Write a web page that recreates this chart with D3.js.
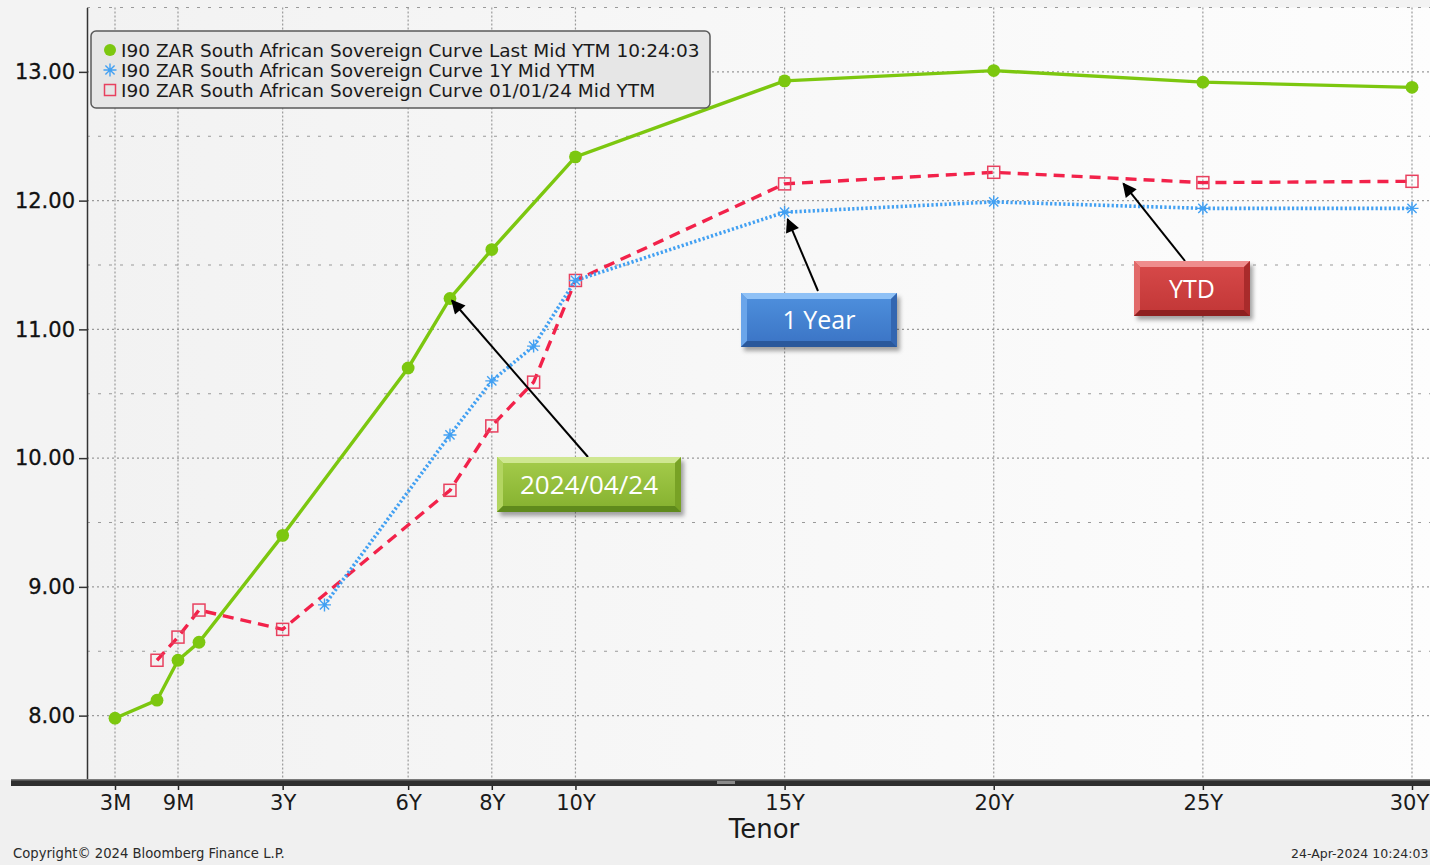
<!DOCTYPE html>
<html>
<head>
<meta charset="utf-8">
<script src="https://cdn.jsdelivr.net/npm/d3@7"></script>
<style>
  html, body { margin: 0; padding: 0; background: #f0f0f0; overflow: hidden; }
  svg { display: block; }
</style>
</head>
<body>
<svg id="chart" width="1430" height="865"></svg>
<script>
// ---- data -----------------------------------------------------------
const tickTenors = ["3M", "9M", "3Y", "6Y", "8Y", "10Y", "15Y", "20Y", "25Y", "30Y"];

const lastTenors = ["3M", "6M", "9M", "1Y", "3Y", "6Y", "7Y", "8Y", "10Y", "15Y", "20Y", "25Y", "30Y"];
const lastYTM    = [7.98, 8.12, 8.43, 8.57, 9.40, 10.70, 11.24, 11.62, 12.34, 12.93, 13.01, 12.92, 12.88];

const oneYearTenors = ["4Y", "7Y", "8Y", "9Y", "10Y", "15Y", "20Y", "25Y", "30Y"];
const oneYearYTM    = [8.86, 10.18, 10.60, 10.87, 11.38, 11.91, 11.99, 11.94, 11.94];

const ytdTenors = ["6M", "9M", "1Y", "3Y", "7Y", "8Y", "9Y", "10Y", "15Y", "20Y", "25Y", "30Y"];
const ytdYTM    = [8.43, 8.61, 8.82, 8.67, 9.75, 10.25, 10.59, 11.38, 12.13, 12.22, 12.14, 12.15];

const yTicks = [8, 9, 10, 11, 12, 13];

const legendLabels = [
  "I90 ZAR South African Sovereign Curve Last Mid YTM 10:24:03",
  "I90 ZAR South African Sovereign Curve 1Y Mid YTM",
  "I90 ZAR South African Sovereign Curve 01/01/24 Mid YTM"
];

// ---- helpers --------------------------------------------------------
const tenorYears = t => t.endsWith("M") ? parseFloat(t) / 12 : parseFloat(t);

const svg = d3.select("#chart");
const FONT = "'DejaVu Sans', Verdana, sans-serif";

// Bloomberg tenor axis: stretched at the short end, linear from 1Y on
const x = d3.scaleLinear().domain([0.25, 0.5, 1, 30]).range([115, 157, 199, 1412]);
const y = d3.scaleLinear().domain([7.5, 13.5]).range([780, 7.5]);

const plotLeft = 87, plotRight = 1440, plotTop = y(13.5), plotBottom = y(7.5);

const defs = svg.append("defs");
const bg = defs.append("linearGradient").attr("id", "plotBg").attr("x1", 0).attr("x2", 1).attr("y1", 0).attr("y2", 0);
bg.append("stop").attr("offset", 0).attr("stop-color", "#f2f2f2");
bg.append("stop").attr("offset", 1).attr("stop-color", "#fdfdfd");

const shadow = defs.append("filter").attr("id", "boxShadow").attr("x", "-20%").attr("y", "-20%").attr("width", "140%").attr("height", "160%");
shadow.append("feGaussianBlur").attr("stdDeviation", 2);

defs.append("marker")
  .attr("id", "arrowHead").attr("viewBox", "0 0 10 10")
  .attr("refX", 9).attr("refY", 5)
  .attr("markerWidth", 8).attr("markerHeight", 7)
  .attr("markerUnits", "strokeWidth").attr("orient", "auto")
  .append("path").attr("d", "M0,0 L10,5 L0,10 z").attr("fill", "#000");

// ---- background -----------------------------------------------------
svg.append("rect").attr("width", 1430).attr("height", 865).attr("fill", "#f0f0f0");
svg.append("rect").attr("x", 0).attr("y", 0).attr("width", 1430).attr("height", plotBottom).attr("fill", "#f3f3f3");
svg.append("rect")
  .attr("x", plotLeft).attr("y", plotTop)
  .attr("width", plotRight - plotLeft).attr("height", plotBottom - plotTop)
  .attr("fill", "url(#plotBg)");

// ---- grid -----------------------------------------------------------
const grid = svg.append("g");
const minorY = d3.range(7.5, 13.51, 1);
grid.selectAll("line.hmaj").data(yTicks).join("line")
  .attr("x1", plotLeft).attr("x2", plotRight)
  .attr("y1", d => y(d)).attr("y2", d => y(d))
  .attr("stroke", "#9a9a9a").attr("stroke-width", 1.2).attr("stroke-dasharray", "2,3");
grid.selectAll("line.hmin").data(minorY).join("line")
  .attr("x1", plotLeft).attr("x2", plotRight)
  .attr("y1", d => y(d)).attr("y2", d => y(d))
  .attr("stroke", "#9a9a9a").attr("stroke-width", 1.2).attr("stroke-dasharray", "3,8");
grid.selectAll("line.v").data(tickTenors).join("line")
  .attr("x1", d => x(tenorYears(d))).attr("x2", d => x(tenorYears(d)))
  .attr("y1", plotTop).attr("y2", plotBottom)
  .attr("stroke", "#9a9a9a").attr("stroke-width", 1.2).attr("stroke-dasharray", "2,2");

// ---- axes -----------------------------------------------------------
const yAxis = svg.append("g")
  .attr("transform", `translate(${plotLeft},0)`)
  .call(d3.axisLeft(y).tickValues(yTicks).tickFormat(d3.format(".2f")).tickSize(8).tickPadding(4).tickSizeOuter(0));
yAxis.select(".domain").attr("stroke", "#333").attr("stroke-width", 1.5);
yAxis.selectAll(".tick line").attr("stroke", "#333").attr("stroke-width", 1.5);
yAxis.selectAll(".tick text").attr("font-family", FONT).attr("font-size", 21).attr("fill", "#111")
  .attr("stroke", "#111").attr("stroke-width", 0.3);

// base bar of the tenor axis
svg.append("rect").attr("x", 11).attr("y", 779).attr("width", 1430).attr("height", 7).attr("fill", "#2e2e2e");
svg.append("rect").attr("x", 11).attr("y", 779).attr("width", 1430).attr("height", 1.5).attr("fill", "#7a7a7a");
svg.append("rect").attr("x", 717).attr("y", 781).attr("width", 18).attr("height", 3).attr("fill", "#8a8a8a");

const xAxis = svg.append("g")
  .attr("transform", "translate(0,786)")
  .call(d3.axisBottom(x).tickValues(tickTenors.map(tenorYears))
    .tickFormat((d, i) => tickTenors[i]).tickSize(4).tickPadding(5).tickSizeOuter(0));
xAxis.select(".domain").remove();
xAxis.selectAll(".tick line").attr("stroke", "#222").attr("stroke-width", 1.5);
xAxis.selectAll(".tick text").attr("font-family", FONT).attr("font-size", 21).attr("fill", "#1a1a1a");
// keep the last label inside the page edge
xAxis.selectAll(".tick:last-of-type text").attr("dx", -3);

svg.append("text").attr("x", 764).attr("y", 838).attr("text-anchor", "middle")
  .attr("font-family", FONT).attr("font-size", 26).attr("fill", "#1a1a1a").text("Tenor");

// ---- series ---------------------------------------------------------
const toPoints = (tenors, vals) => tenors.map((t, i) => ({ t: tenorYears(t), v: vals[i] }));
const lastPts = toPoints(lastTenors, lastYTM);
const oneYPts = toPoints(oneYearTenors, oneYearYTM);
const ytdPts  = toPoints(ytdTenors, ytdYTM);

const line = d3.line().x(d => x(d.t)).y(d => y(d.v));

const GREEN = "#7cc70f", BLUE = "#42a0f2", RED = "#f2224a", RED_MK = "#e8415f";

// year-start curve (dashed red)
svg.append("path").datum(ytdPts).attr("d", line)
  .attr("fill", "none").attr("stroke", RED).attr("stroke-width", 3.4)
  .attr("stroke-dasharray", "11,7");
// one-year-ago curve (dotted blue)
svg.append("path").datum(oneYPts).attr("d", line)
  .attr("fill", "none").attr("stroke", BLUE).attr("stroke-width", 3.6)
  .attr("stroke-dasharray", "2.2,2.2").attr("stroke-linecap", "butt");
// latest curve (solid green)
svg.append("path").datum(lastPts).attr("d", line)
  .attr("fill", "none").attr("stroke", GREEN).attr("stroke-width", 3.4);

const asterisk = r => {
  const d = r * Math.SQRT1_2;
  return `M0,${-r}L0,${r}M${-r},0L${r},0M${-d},${-d}L${d},${d}M${-d},${d}L${d},${-d}`;
};

svg.append("g").selectAll("rect").data(ytdPts).join("rect")
  .attr("x", d => x(d.t) - 6).attr("y", d => y(d.v) - 6)
  .attr("width", 12).attr("height", 12)
  .attr("fill", "none").attr("stroke", RED_MK).attr("stroke-width", 1.5);
svg.append("g").selectAll("path").data(oneYPts).join("path")
  .attr("transform", d => `translate(${x(d.t)},${y(d.v)})`)
  .attr("d", asterisk(6.5)).attr("stroke", BLUE).attr("stroke-width", 1.4).attr("fill", "none");
svg.append("g").selectAll("circle").data(lastPts).join("circle")
  .attr("cx", d => x(d.t)).attr("cy", d => y(d.v)).attr("r", 6.4).attr("fill", GREEN);

// ---- legend ---------------------------------------------------------
const lg = svg.append("g");
lg.append("rect").attr("x", 91).attr("y", 31).attr("width", 619).attr("height", 77).attr("rx", 5)
  .attr("fill", "#e6e6e6").attr("stroke", "#5a5a5a").attr("stroke-width", 1.5);
const rowY = [50, 70, 90];
lg.append("circle").attr("cx", 110).attr("cy", rowY[0]).attr("r", 6).attr("fill", GREEN);
lg.append("path").attr("transform", `translate(110,${rowY[1]})`).attr("d", asterisk(6.5))
  .attr("stroke", BLUE).attr("stroke-width", 1.4).attr("fill", "none");
lg.append("rect").attr("x", 104.5).attr("y", rowY[2] - 5.5).attr("width", 11).attr("height", 11)
  .attr("fill", "none").attr("stroke", RED_MK).attr("stroke-width", 1.5);
lg.selectAll("text").data(legendLabels).join("text")
  .attr("x", 121).attr("y", (d, i) => rowY[i]).attr("dy", "0.36em")
  .attr("font-family", FONT).attr("font-size", 18.5).attr("fill", "#1a1a1a")
  .text(d => d);

// ---- annotations ----------------------------------------------------
function callout(box, tip, colors, label) {
  const g = svg.append("g");
  const { x0, y0, w, h } = box;
  const b = 6;
  // arrow from box edge to the marked point
  g.append("line")
    .attr("x1", box.ax).attr("y1", box.ay).attr("x2", tip[0]).attr("y2", tip[1])
    .attr("stroke", "#000").attr("stroke-width", 2).attr("marker-end", "url(#arrowHead)");
  g.append("rect").attr("x", x0 + 3).attr("y", y0 + 4).attr("width", w).attr("height", h)
    .attr("fill", "rgba(0,0,0,0.35)").attr("filter", "url(#boxShadow)");
  const gid = "face" + label.replace(/\W/g, "");
  const gr = defs.append("linearGradient").attr("id", gid).attr("x1", 0).attr("x2", 0).attr("y1", 0).attr("y2", 1);
  gr.append("stop").attr("offset", 0).attr("stop-color", colors.faceTop);
  gr.append("stop").attr("offset", 1).attr("stop-color", colors.faceBottom);
  g.append("rect").attr("x", x0).attr("y", y0).attr("width", w).attr("height", h).attr("fill", `url(#${gid})`);
  const poly = (pts, fill) => g.append("polygon").attr("points", pts.map(p => p.join(",")).join(" ")).attr("fill", fill);
  poly([[x0, y0], [x0 + w, y0], [x0 + w - b, y0 + b], [x0 + b, y0 + b]], colors.top);
  poly([[x0, y0], [x0 + b, y0 + b], [x0 + b, y0 + h - b], [x0, y0 + h]], colors.left);
  poly([[x0 + w, y0], [x0 + w, y0 + h], [x0 + w - b, y0 + h - b], [x0 + w - b, y0 + b]], colors.right);
  poly([[x0, y0 + h], [x0 + b, y0 + h - b], [x0 + w - b, y0 + h - b], [x0 + w, y0 + h]], colors.bottom);
  g.append("text").attr("x", x0 + w / 2).attr("y", y0 + h / 2).attr("dy", "0.36em")
    .attr("text-anchor", "middle").attr("font-family", "'Open Sans', 'Noto Sans', sans-serif")
    .attr("font-size", box.fs || 25).attr("fill", "#fff").text(label);
}

const at = (pts, t) => pts.find(p => p.t === t);

const g7 = at(lastPts, 7);
callout({ x0: 497, y0: 457, w: 184, h: 55, ax: 588, ay: 457, fs: 26 },
  [x(g7.t) + 2, y(g7.v) + 2],
  { faceTop: "#a6cd4c", faceBottom: "#84b02e", top: "#cfe791", left: "#b3d561", right: "#78a225", bottom: "#5f8a1c" },
  "2024/04/24");

const b15 = at(oneYPts, 15);
callout({ x0: 741, y0: 293, w: 156, h: 54, ax: 818, ay: 291 },
  [x(b15.t) + 3, y(b15.v) + 7],
  { faceTop: "#4f91de", faceBottom: "#3a73c4", top: "#8fc1f6", left: "#6aa5ea", right: "#3366b1", bottom: "#2a589b" },
  "1 Year");

const r20 = at(ytdPts, 20), r25 = at(ytdPts, 25);
callout({ x0: 1134, y0: 261, w: 116, h: 55, ax: 1185, ay: 261 },
  [d3.interpolateNumber(x(r20.t), x(r25.t))(0.62), d3.interpolateNumber(y(r20.v), y(r25.v))(0.62) + 5],
  { faceTop: "#d84a4a", faceBottom: "#c13636", top: "#ef8d8d", left: "#e26a6a", right: "#a92b2b", bottom: "#8e2020" },
  "YTD");

// ---- footer ---------------------------------------------------------
svg.append("text").attr("x", 13).attr("y", 858)
  .attr("font-family", FONT).attr("font-size", 13.2).attr("fill", "#2a2a2a")
  .text("Copyright\u00a9 2024 Bloomberg Finance L.P.");
svg.append("text").attr("x", 1291).attr("y", 858)
  .attr("font-family", FONT).attr("font-size", 12.5).attr("fill", "#2a2a2a")
  .text("24-Apr-2024 10:24:03");
</script>
</body>
</html>
